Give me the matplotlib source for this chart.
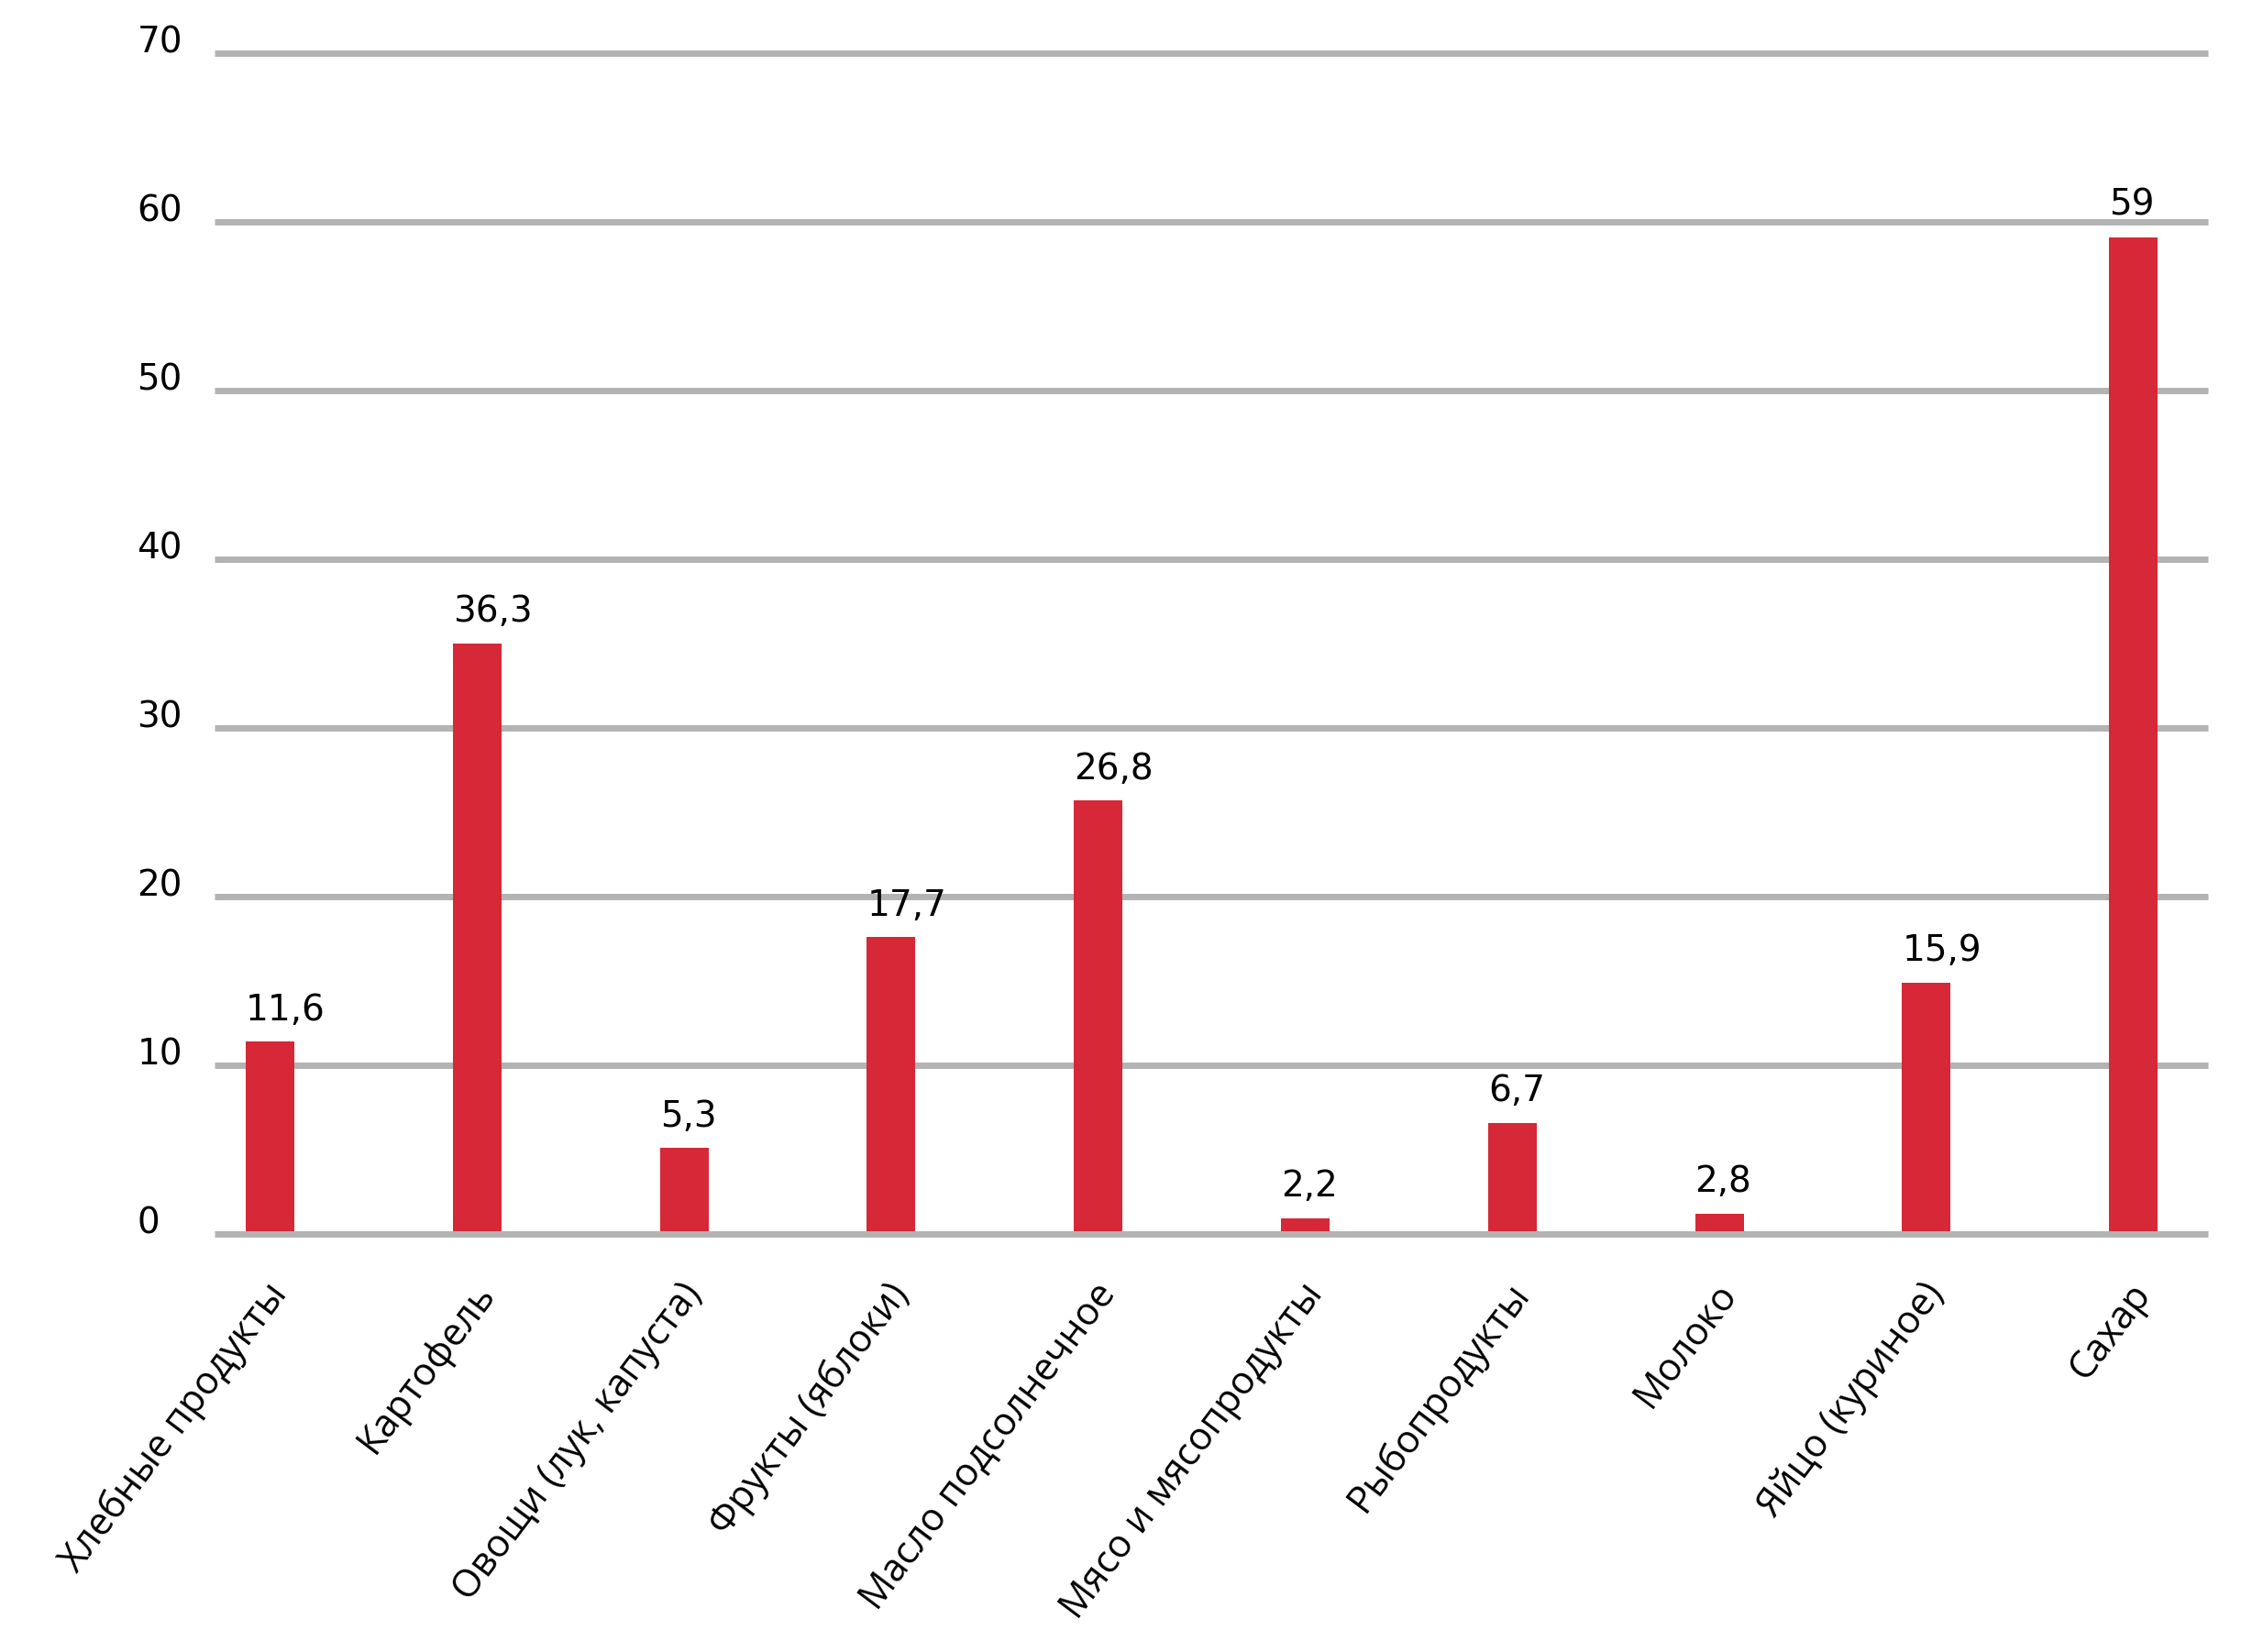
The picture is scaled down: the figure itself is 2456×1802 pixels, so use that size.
import matplotlib.pyplot as plt
from matplotlib.transforms import ScaledTranslation

categories = ["Хлебные продукты", "Картофель", "Овощи (лук, капуста)",
              "Фрукты (яблоки)", "Масло подсолнечное", "Мясо и мясопродукты",
              "Рыбопродукты", "Молоко", "Яйцо (куриное)", "Сахар"]
# bar heights as drawn in the picture
heights = [11.4, 35.0, 5.1, 17.6, 25.7, 0.95, 6.6, 1.2, 14.9, 59.1]
# value labels as printed
value_labels = ["11,6", "36,3", "5,3", "17,7", "26,8", "2,2", "6,7", "2,8", "15,9", "59"]
yticks = [0, 10, 20, 30, 40, 50, 60, 70]

red = "#d62836"
grey = "#b3b3b3"
bw = 0.235

fig = plt.figure(figsize=(24.56, 18.02), dpi=100)
ax = fig.add_axes([234 / 2456, 1 - 1346 / 1802, (2408 - 234) / 2456, (1346 - 58) / 1802])

x = list(range(len(categories)))
ax.bar(x, heights, width=bw, color=red, zorder=3)

for xi, h, lab in zip(x, heights, value_labels):
    ax.annotate(lab, (xi - bw / 2, h), xytext=(0, 17), textcoords="offset points",
                ha="left", va="baseline", fontsize=28, family="DejaVu Sans")

ax.set_xlim(-0.268, 9.36)
ax.set_ylim(0, 70)
ax.set_yticks(yticks)
for t in yticks:
    ax.axhline(t, color=grey, lw=5, zorder=1 if t else 4,
               solid_capstyle="butt", clip_on=False)

for s in ax.spines.values():
    s.set_visible(False)

ax.tick_params(axis="y", length=0, pad=61, labelsize=28)
for lab in ax.get_yticklabels():
    lab.set_ha("left")
    lab.set_va("baseline")
    lab.set_family("DejaVu Sans")

ax.set_xticks(x)
ax.set_xticklabels(categories, rotation=53, ha="right", va="top",
                   fontsize=30, family="Open Sans")
ax.tick_params(axis="x", length=0, pad=33)
offset = ScaledTranslation(0.28, 0, fig.dpi_scale_trans)
for lab in ax.get_xticklabels():
    lab.set_transform(lab.get_transform() + offset)

fig.savefig("out.png", dpi=100, facecolor="white")
